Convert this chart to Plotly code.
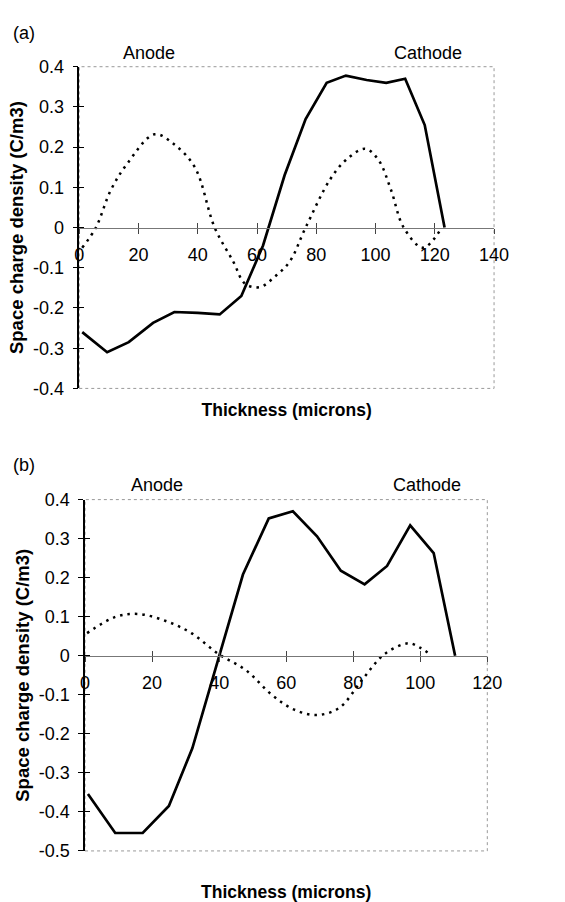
import plotly.graph_objects as go

# ---------------- data: panel (a) ----------------
a_solid_x = [1, 9.4, 16.7, 24.9, 32.1, 40, 47.4, 54.7, 62, 69.3, 76.4, 83.5, 90, 97, 103.6, 110, 116.6, 123.3]
a_solid_y = [-0.26, -0.31, -0.285, -0.237, -0.21, -0.212, -0.216, -0.17, -0.045, 0.13, 0.27, 0.36, 0.378, 0.367, 0.36, 0.37, 0.255, 0.0]
a_dot_x = [1, 5.6, 10.7, 16.2, 25.4, 32, 39, 45.7, 52, 56, 61, 66, 71, 76.4, 84.6, 90, 96.5, 101, 105.2, 109.5, 116, 121.5]
a_dot_y = [-0.05, 0.0, 0.094, 0.159, 0.232, 0.207, 0.15, 0.0, -0.085, -0.14, -0.148, -0.122, -0.085, 0.0, 0.119, 0.168, 0.196, 0.168, 0.094, 0.0, -0.05, -0.01]
a_xticks = [0, 20, 40, 60, 80, 100, 120, 140]
a_yticks = [-0.4, -0.3, -0.2, -0.1, 0, 0.1, 0.2, 0.3, 0.4]
a_yticktext = ["-0.4", "-0.3", "-0.2", "-0.1", "0", "0.1", "0.2", "0.3", "0.4"]

# ---------------- data: panel (b) ----------------
b_solid_x = [0.86, 9, 17.2, 25, 32, 39.7, 47.1, 54.8, 62, 69.2, 76.3, 83.4, 90.1, 97, 104, 110.4]
b_solid_y = [-0.354, -0.454, -0.454, -0.385, -0.237, -0.01, 0.208, 0.352, 0.37, 0.306, 0.218, 0.183, 0.23, 0.334, 0.263, 0.0]
b_dot_x = [0.6, 9.2, 15.9, 24.1, 31.7, 39.9, 48, 55.7, 62.4, 69.2, 75.9, 82.6, 89.3, 96.5, 99.9, 102.9]
b_dot_y = [0.058, 0.1, 0.107, 0.089, 0.058, 0.004, -0.037, -0.1, -0.138, -0.152, -0.133, -0.0625, 0.004, 0.032, 0.021, 0.004]
b_xticks = [0, 20, 40, 60, 80, 100, 120]
b_yticks = [-0.5, -0.4, -0.3, -0.2, -0.1, 0, 0.1, 0.2, 0.3, 0.4]
b_yticktext = ["-0.5", "-0.4", "-0.3", "-0.2", "-0.1", "0", "0.1", "0.2", "0.3", "0.4"]

x_title = "Thickness (microns)"
y_title = "Space charge density (C/m3)"

FONT = "Liberation Sans, Arial, sans-serif"
W, H = 565, 902
TICK_FS = 18

panels = [
    dict(sx=a_solid_x, sy=a_solid_y, dx=a_dot_x, dy=a_dot_y,
         xt=a_xticks, yt=a_yticks, ytt=a_yticktext,
         xr=[0, 140], yr=[-0.4, 0.4],
         xd=[77 / W, 507 / W], yd=[1 - 387 / H, 1 - 58 / H],
         xt_standoff=139, label="(a)", label_y=24,
         anode=(149, 44), cathode=(439, 44)),
    dict(sx=b_solid_x, sy=b_solid_y, dx=b_dot_x, dy=b_dot_y,
         xt=b_xticks, yt=b_yticks, ytt=b_yticktext,
         xr=[0, 120], yr=[-0.5, 0.4],
         xd=[83 / W, 500 / W], yd=[1 - 860 / H, 1 - 500.7 / H],
         xt_standoff=193, label="(b)", label_y=465,
         anode=(158, 486), cathode=(438, 486)),
]

fig = go.Figure()
layout = dict(width=W, height=H, margin=dict(l=0, r=0, t=0, b=0),
              paper_bgcolor="white", plot_bgcolor="white",
              font=dict(family=FONT, size=TICK_FS, color="black"),
              showlegend=False)
shapes = []
annotations = []

for i, p in enumerate(panels):
    xa = "x" if i == 0 else "x2"
    ya = "y" if i == 0 else "y2"
    xo = "x3" if i == 0 else "x4"
    yo = "y3" if i == 0 else "y4"
    xk = "xaxis" if i == 0 else "xaxis2"
    yk = "yaxis" if i == 0 else "yaxis2"
    xok = "xaxis3" if i == 0 else "xaxis4"
    yok = "yaxis3" if i == 0 else "yaxis4"

    fig.add_trace(go.Scatter(x=p["dx"], y=p["dy"], mode="lines", xaxis=xa, yaxis=ya,
                             line=dict(color="black", width=2.5, dash="2.5px,5px", shape="spline", smoothing=1.0),
                             hoverinfo="skip"))
    fig.add_trace(go.Scatter(x=p["sx"], y=p["sy"], mode="lines", xaxis=xa, yaxis=ya,
                             line=dict(color="black", width=2.7), hoverinfo="skip"))
    # dummy trace to register the overlay axes (used for cross ticks)
    fig.add_trace(go.Scatter(x=[None], y=[None], xaxis=xo, yaxis=yo, mode="lines",
                             hoverinfo="skip"))

    y0, y1 = p["yd"]
    zero_pos = y0 + (0 - p["yr"][0]) / (p["yr"][1] - p["yr"][0]) * (y1 - y0)

    layout[xk] = dict(domain=p["xd"], range=p["xr"], anchor="free", position=zero_pos,
                      tickmode="array", tickvals=p["xt"],
                      ticks="outside", ticklen=5, tickcolor="#444", tickwidth=1,
                      showline=True, linecolor="#777", linewidth=1.3, showgrid=False, zeroline=False,
                      ticklabelstandoff=6, tickfont=dict(size=TICK_FS),
                      title=dict(text=x_title, standoff=p["xt_standoff"],
                                 font=dict(size=17.5, weight="bold")))
    layout[xok] = dict(overlaying=xa, range=p["xr"], anchor="free", position=zero_pos,
                       tickmode="array", tickvals=p["xt"],
                       ticks="inside", ticklen=5, tickcolor="#444", tickwidth=1,
                       showticklabels=False, showline=False, showgrid=False, zeroline=False)
    layout[yk] = dict(domain=p["yd"], range=p["yr"], anchor=xa,
                      tickmode="array", tickvals=p["yt"], ticktext=p["ytt"],
                      ticks="outside", ticklen=5, tickcolor="black", tickwidth=1,
                      showline=True, linecolor="black", linewidth=1.5, showgrid=False, zeroline=False,
                      ticklabelstandoff=5, tickfont=dict(size=TICK_FS),
                      title=dict(text=y_title, standoff=4, font=dict(size=18.5, weight="bold")))
    layout[yok] = dict(overlaying=ya, range=p["yr"], anchor=xa,
                       tickmode="array", tickvals=p["yt"],
                       ticks="inside", ticklen=5, tickcolor="black", tickwidth=1,
                       showticklabels=False, showline=False, showgrid=False, zeroline=False)

    shapes.append(dict(type="rect", xref=f"{xa} domain", yref=f"{ya} domain",
                       x0=0, x1=1, y0=0, y1=1, layer="below",
                       line=dict(color="#999", width=1, dash="dot")))

    annotations.append(dict(text=p["label"], xref="paper", yref="paper",
                            x=6 / W, y=1 - p["label_y"] / H, xanchor="left", yanchor="middle",
                            showarrow=False, font=dict(size=18)))
    annotations.append(dict(text="Anode", xref="paper", yref="paper",
                            x=p["anode"][0] / W, y=1 - p["anode"][1] / H,
                            xanchor="center", yanchor="middle", showarrow=False, font=dict(size=18)))
    annotations.append(dict(text="Cathode", xref="paper", yref="paper",
                            x=p["cathode"][0] / W, y=1 - p["cathode"][1] / H,
                            xanchor="center", yanchor="middle", showarrow=False, font=dict(size=18)))

layout["shapes"] = shapes
layout["annotations"] = annotations
fig.update_layout(**layout)
fig.write_html("out.html")
